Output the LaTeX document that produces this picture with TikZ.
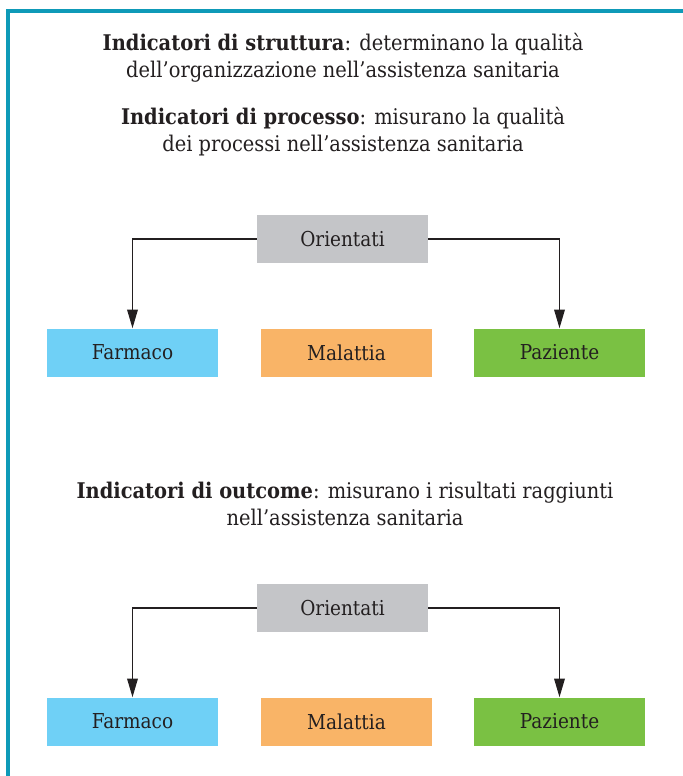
\documentclass[tikz,border=0pt]{standalone}
\usepackage{fontspec}
\setmainfont{DejaVu Serif Condensed}
\usetikzlibrary{arrows.meta}
\definecolor{framecol}{HTML}{0E9AB8}
\definecolor{farmcol}{HTML}{6FD0F6}
\definecolor{malcol}{HTML}{F9B467}
\definecolor{pazcol}{HTML}{7AC143}
\definecolor{oricol}{HTML}{C4C5C8}
\definecolor{inkcol}{HTML}{231F20}
\begin{document}
\begin{tikzpicture}[
    x=0.75pt,
    y=-0.75pt,
    catbox/.style={minimum width=128.25pt,minimum height=36pt,inner sep=0pt,
      text=inkcol,font=\fontsize{15.4}{18}\selectfont},
    headtext/.style={align=center,text=inkcol,font=\fontsize{16.2}{20.2}\selectfont},
    link/.style={draw=inkcol,line width=0.9pt,-{Stealth[length=14pt,width=8pt,inset=0pt]}}
  ]
    \useasboundingbox (0,0) rectangle (683,776);
    \draw[framecol,line width=2.4pt] (683,11) -- (8,11) -- (8,776);

    \node[headtext] (struct) at (343,58)
      {\textbf{Indicatori di struttura}: determinano la qualità\\
       dell’organizzazione nell’assistenza sanitaria};
    \node[headtext] (proc) at (343,132)
      {\textbf{Indicatori di processo}: misurano la qualità\\
       dei processi nell’assistenza sanitaria};

    \node[catbox,fill=oricol] (ori1) at (342.5,239) {Orientati};
    \node[catbox,fill=farmcol] (farm1) at (132.5,352.5) {Farmaco};
    \node[catbox,fill=malcol] (mal1) at (346.5,352.5) {Malattia};
    \node[catbox,fill=pazcol] (paz1) at (559.5,352.5) {Paziente};
    \draw[link] (ori1.west) -| (farm1.north);
    \draw[link] (ori1.east) -| (paz1.north);

    \node[headtext] (outc) at (345,504)
      {\textbf{Indicatori di outcome}: misurano i risultati raggiunti\\
       nell’assistenza sanitaria};

    \node[catbox,fill=oricol] (ori2) at (342.5,608) {Orientati};
    \node[catbox,fill=farmcol] (farm2) at (132.5,721.5) {Farmaco};
    \node[catbox,fill=malcol] (mal2) at (346.5,721.5) {Malattia};
    \node[catbox,fill=pazcol] (paz2) at (559.5,721.5) {Paziente};
    \draw[link] (ori2.west) -| (farm2.north);
    \draw[link] (ori2.east) -| (paz2.north);
  \end{tikzpicture}
\end{document}
